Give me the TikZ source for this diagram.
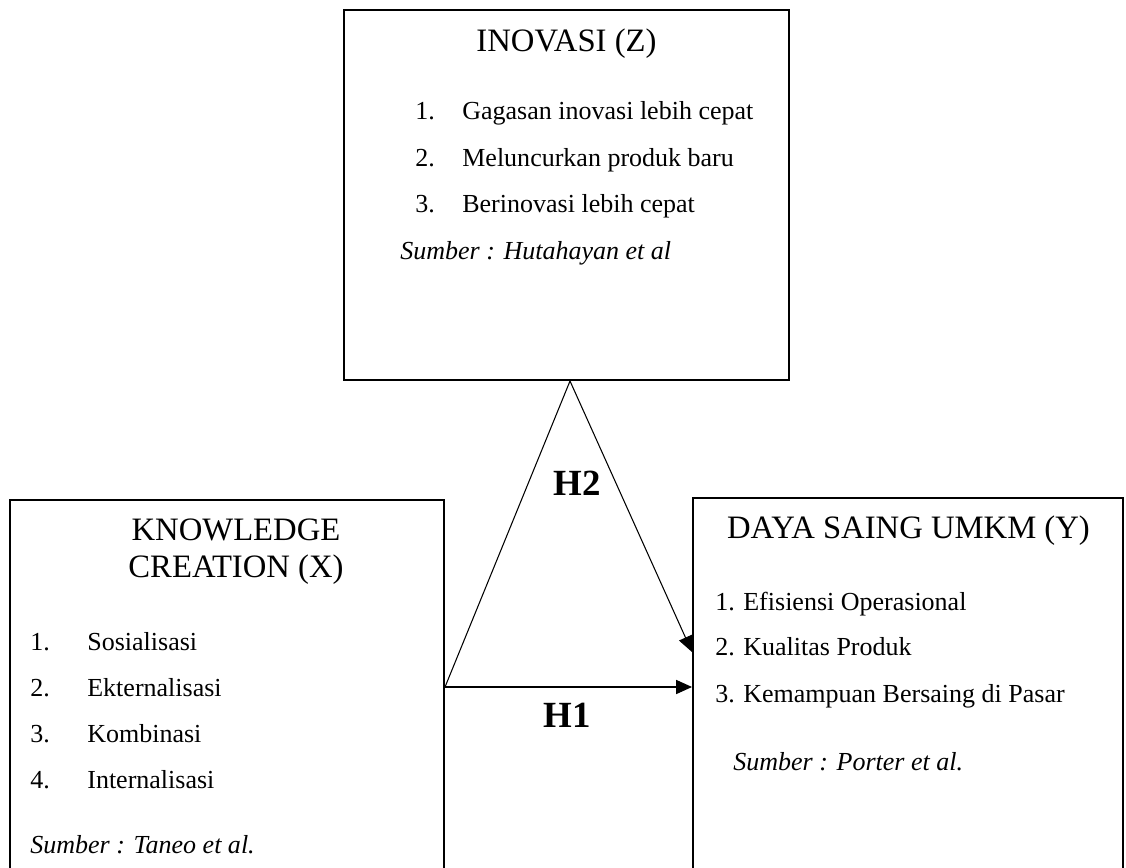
\documentclass[tikz,border=0pt]{standalone}
\usepackage{fontspec}
\setmainfont{Liberation Serif}
\usetikzlibrary{arrows.meta,positioning}

\begin{document}
\begin{tikzpicture}[x=0.02cm,y=-0.02cm,
  varbox/.style={draw=black,line width=1.2pt,rectangle,inner sep=0pt},
  judul/.style={anchor=base,font=\fontsize{18.6}{21}\selectfont,inner sep=0pt},
  butir/.style={anchor=base west,font=\fontsize{14.8}{18}\selectfont,inner sep=0pt},
  sumber/.style={butir,font=\fontsize{14.8}{18}\selectfont\itshape},
  hipo/.style={font=\fontsize{21}{24}\selectfont\bfseries,inner sep=0pt},
  panah/.style={line width=0.6pt,-{Triangle[length=9pt,width=8pt]}}]
\useasboundingbox (0,0) rectangle (1126,868);
\clip (0,0) rectangle (1126,868);
% kotak variabel
\node[varbox,minimum width=8.9cm,minimum height=7.4cm] (inov) at (566.5,195) {};
\node[varbox,minimum width=8.68cm,minimum height=7.8cm] (kc) at (227,695) {};
\node[varbox,minimum width=8.6cm,minimum height=7.8cm] (ds) at (908,693) {};
% inovasi
\node[judul] (inovT) at (566.5,52) {INOVASI (Z)};
\node[butir] (z1n) at (415,120) {1.};
\node[butir] (z1) at (462,120) {Gagasan inovasi lebih cepat};
\node[butir] (z2n) at (415,167) {2.};
\node[butir] (z2) at (462,167) {Meluncurkan produk baru};
\node[butir] (z3n) at (415,213) {3.};
\node[butir] (z3) at (462,213) {Berinovasi lebih cepat};
\node[sumber] (zsrc) at (400,260) {Sumber : Hutahayan et al};
% knowledge creation
\node[judul] (kcT1) at (236,540) {KNOWLEDGE};
\node[judul] (kcT2) at (236,577) {CREATION (X)};
\node[butir] (x1n) at (30,650) {1.};
\node[butir] (x1) at (87,650) {Sosialisasi};
\node[butir] (x2n) at (30,696) {2.};
\node[butir] (x2) at (87,696) {Ekternalisasi};
\node[butir] (x3n) at (30,742) {3.};
\node[butir] (x3) at (87,742) {Kombinasi};
\node[butir] (x4n) at (30,788) {4.};
\node[butir] (x4) at (87,788) {Internalisasi};
\node[sumber] (xsrc) at (30,853) {Sumber : Taneo et al.};
% daya saing
\node[judul] (dsT) at (908.5,538) {DAYA SAING UMKM (Y)};
\node[butir] (y1n) at (715,610) {1.};
\node[butir] (y1) at (743,610) {Efisiensi Operasional};
\node[butir] (y2n) at (715,655) {2.};
\node[butir] (y2) at (743,655) {Kualitas Produk};
\node[butir] (y3n) at (715,702) {3.};
\node[butir] (y3) at (743,702) {Kemampuan Bersaing di Pasar};
\node[sumber] (ysrc) at (733,770) {Sumber : Porter et al.};
% hubungan
\path (kc.east) ++(0,-8) coordinate (asal);
\path (ds.west) ++(0,-41) coordinate (ujung);
\draw[panah] (asal) -- (asal -| ds.west);
\draw[panah] (asal) -- ([xshift=0.07cm]inov.south) -- (ujung);
\node[hipo] (h2) at (577,483) {H2};
\node[hipo] (h1) at (567,715) {H1};
\end{tikzpicture}
\end{document}
